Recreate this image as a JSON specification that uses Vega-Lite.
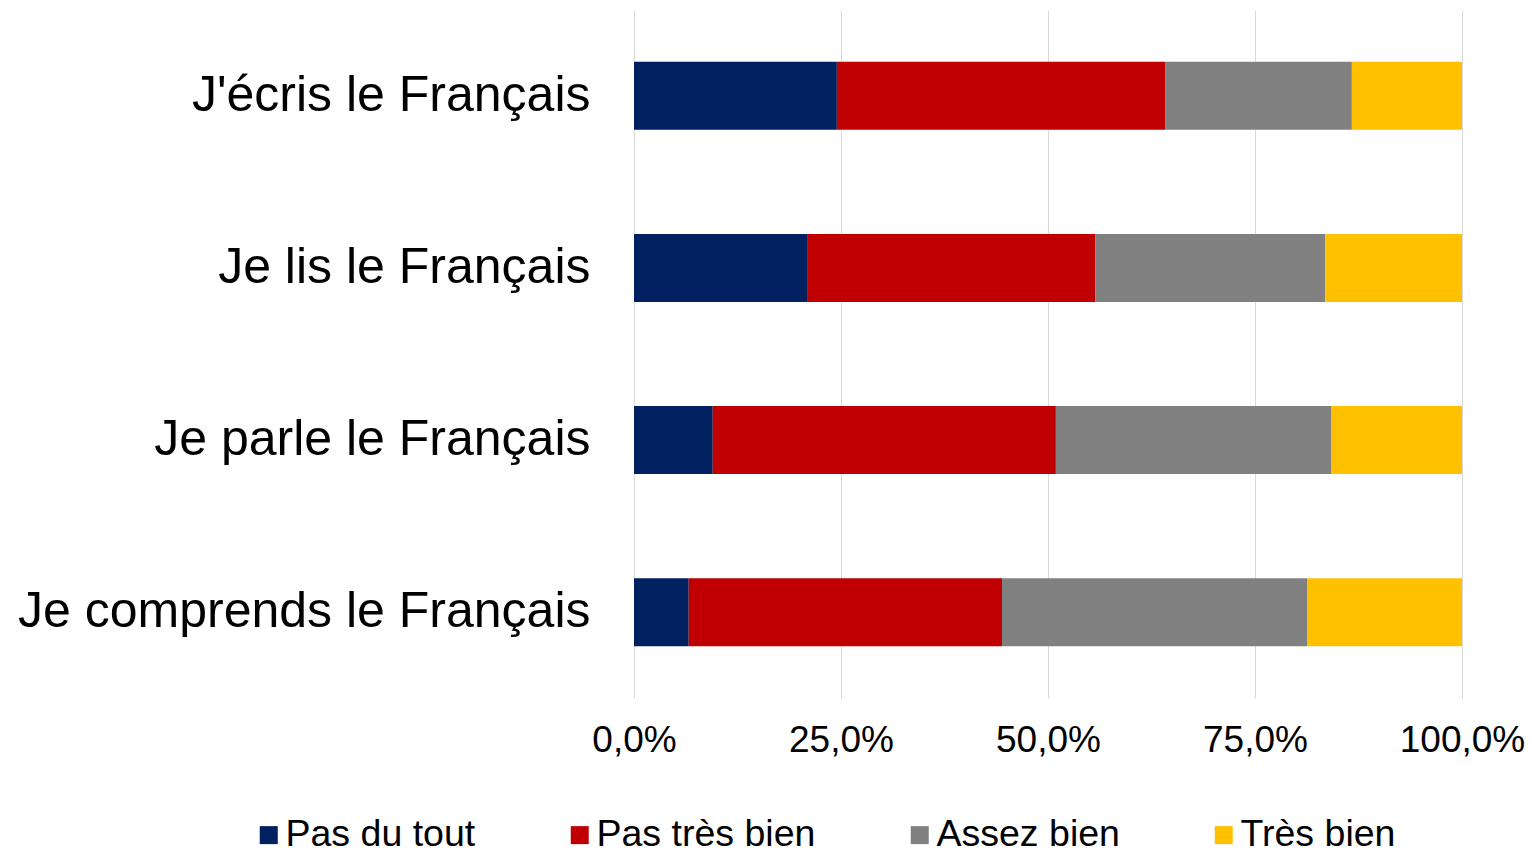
{
  "$schema": "https://vega.github.io/schema/vega-lite/v6.json",
  "autosize": {"type": "none"},
  "width": 828,
  "height": 688,
  "padding": {"left": 634, "top": 10, "right": 70, "bottom": 151},
  "background": "white",
  "data": {
    "values": [
      {"item": "J'écris le Français", "niveau": "Pas du tout", "pct": 24.5},
      {"item": "J'écris le Français", "niveau": "Pas très bien", "pct": 39.7},
      {"item": "J'écris le Français", "niveau": "Assez bien", "pct": 22.5},
      {"item": "J'écris le Français", "niveau": "Très bien", "pct": 13.3},
      {"item": "Je lis le Français", "niveau": "Pas du tout", "pct": 20.9},
      {"item": "Je lis le Français", "niveau": "Pas très bien", "pct": 34.8},
      {"item": "Je lis le Français", "niveau": "Assez bien", "pct": 27.8},
      {"item": "Je lis le Français", "niveau": "Très bien", "pct": 16.5},
      {"item": "Je parle le Français", "niveau": "Pas du tout", "pct": 9.5},
      {"item": "Je parle le Français", "niveau": "Pas très bien", "pct": 41.4},
      {"item": "Je parle le Français", "niveau": "Assez bien", "pct": 33.2},
      {"item": "Je parle le Français", "niveau": "Très bien", "pct": 15.8},
      {"item": "Je comprends le Français", "niveau": "Pas du tout", "pct": 6.6},
      {"item": "Je comprends le Français", "niveau": "Pas très bien", "pct": 37.8},
      {"item": "Je comprends le Français", "niveau": "Assez bien", "pct": 36.8},
      {"item": "Je comprends le Français", "niveau": "Très bien", "pct": 18.7}
    ]
  },
  "transform": [
    {"calculate": "indexof(['Pas du tout', 'Pas très bien', 'Assez bien', 'Très bien'], datum.niveau)", "as": "rang"}
  ],
  "mark": {"type": "bar"},
  "encoding": {
    "y": {
      "field": "item",
      "type": "nominal",
      "sort": ["J'écris le Français", "Je lis le Français", "Je parle le Français", "Je comprends le Français"],
      "scale": {"paddingInner": 0.605, "paddingOuter": 0.3},
      "axis": {
        "title": null,
        "domain": false,
        "ticks": false,
        "grid": false,
        "labelFont": "Liberation Sans",
        "labelFontSize": 50,
        "labelColor": "black",
        "labelPadding": 44,
        "labelLimit": 700
      }
    },
    "x": {
      "field": "pct",
      "type": "quantitative",
      "stack": "normalize",
      "scale": {"domain": [0, 1], "nice": false},
      "axis": {
        "title": null,
        "values": [0, 0.25, 0.5, 0.75, 1],
        "labelExpr": "replace(format(datum.value, '.1%'), '.', ',')",
        "domain": false,
        "ticks": false,
        "grid": true,
        "gridColor": "#d9d9d9",
        "gridWidth": 1,
        "labelFont": "Liberation Sans",
        "labelFontSize": 37,
        "labelColor": "black",
        "labelPadding": 24,
        "labelFlush": false,
        "labelOverlap": false
      }
    },
    "order": {"field": "rang", "type": "quantitative", "sort": "ascending"},
    "color": {
      "field": "niveau",
      "type": "nominal",
      "sort": ["Pas du tout", "Pas très bien", "Assez bien", "Très bien"],
      "scale": {
        "domain": ["Pas du tout", "Pas très bien", "Assez bien", "Très bien"],
        "range": ["#002060", "#C00000", "#808080", "#FFC000"]
      },
      "legend": {
        "title": null,
        "orient": "none",
        "direction": "horizontal",
        "legendX": -384,
        "legendY": 806,
        "padding": 0,
        "symbolType": "square",
        "symbolSize": 324,
        "symbolStrokeWidth": 0,
        "labelOffset": -2,
        "columnPadding": 85,
        "labelFont": "Liberation Sans",
        "labelFontSize": 37.5,
        "labelColor": "black",
        "labelLimit": 400
      }
    }
  },
  "config": {"view": {"stroke": null}}
}
